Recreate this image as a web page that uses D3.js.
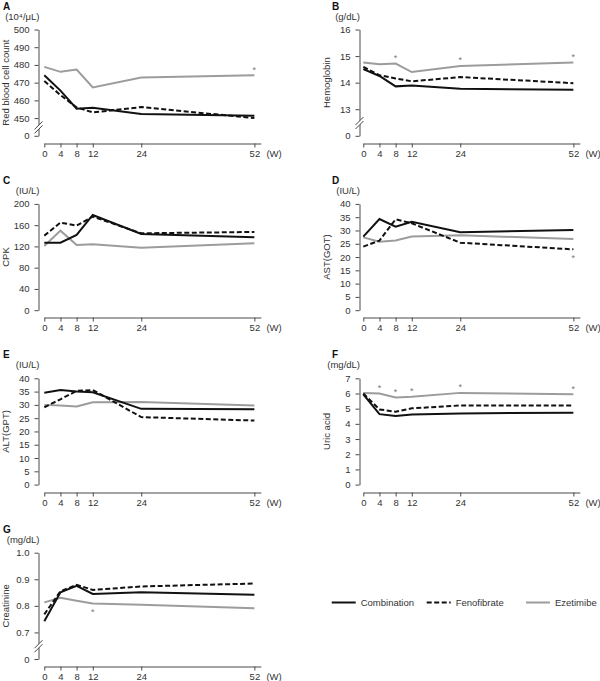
<!DOCTYPE html>
<html><head><meta charset="utf-8">
<script src="https://cdn.jsdelivr.net/npm/d3@7"></script>
<style>
body{margin:0;background:#fff;}
svg text{font-family:"Liberation Sans",Arial,Helvetica,sans-serif;}
</style></head>
<body><div id="chart"></div>
<script>
// ---------- data ----------
const weeks = [0, 4, 8, 12, 24, 52];
const xTickLabels = ["0", "4", "8", "12", "24", "52"];
const seriesNames = ["Combination", "Fenofibrate", "Ezetimibe"];

const rbcCombination = [474.2, 465.5, 455.3, 455.8, 452.3, 451.3];
const rbcFenofibrate = [470.9, 463.0, 456.0, 453.2, 456.2, 450.0];
const rbcEzetimibe   = [478.9, 476.1, 477.4, 467.3, 472.9, 474.2];

const hgbCombination = [14.51, 14.25, 13.86, 13.89, 13.77, 13.73];
const hgbFenofibrate = [14.59, 14.28, 14.16, 14.05, 14.21, 13.98];
const hgbEzetimibe   = [14.76, 14.69, 14.72, 14.40, 14.63, 14.76];

const cpkCombination = [127.0, 127.0, 141.5, 179.2, 143.4, 137.1];
const cpkFenofibrate = [140.3, 164.8, 159.1, 176.1, 144.7, 147.2];
const cpkEzetimibe   = [120.8, 149.7, 122.6, 123.9, 117.6, 125.8];

const astCombination = [27.7, 34.3, 31.4, 33.3, 29.3, 30.2];
const astFenofibrate = [23.9, 26.2, 34.2, 32.7, 25.4, 22.9];
const astEzetimibe   = [27.4, 25.8, 26.2, 27.7, 28.2, 26.8];

const altCombination = [34.6, 35.6, 35.0, 34.75, 28.5, 28.4];
const altFenofibrate = [29.1, 32.1, 35.25, 35.6, 25.4, 24.1];
const altEzetimibe   = [30.0, 29.75, 29.4, 31.0, 31.1, 29.75];

const uaCombination = [5.95, 4.64, 4.51, 4.62, 4.69, 4.73];
const uaFenofibrate = [6.00, 4.95, 4.80, 5.02, 5.21, 5.21];
const uaEzetimibe   = [6.04, 6.00, 5.73, 5.78, 6.04, 5.95];

const creCombination = [0.742, 0.851, 0.875, 0.845, 0.851, 0.842];
const creFenofibrate = [0.768, 0.855, 0.879, 0.860, 0.873, 0.884];
const creEzetimibe   = [0.813, 0.830, 0.819, 0.809, 0.804, 0.791];

const yTicksA = [0, 450, 460, 470, 480, 490, 500];
const yLabelsA = ["0", "450", "460", "470", "480", "490", "500"];
const yTicksB = [0, 13, 14, 15, 16];
const yLabelsB = ["0", "13", "14", "15", "16"];
const yTicksC = [0, 40, 80, 120, 160, 200];
const yLabelsC = ["0", "40", "80", "120", "160", "200"];
const yTicksD = [0, 5, 10, 15, 20, 25, 30, 35, 40];
const yLabelsD = ["0", "5", "10", "15", "20", "25", "30", "35", "40"];
const yTicksE = [0, 5, 10, 15, 20, 25, 30, 35, 40];
const yLabelsE = ["0", "5", "10", "15", "20", "25", "30", "35", "40"];
const yTicksF = [0, 1, 2, 3, 4, 5, 6, 7];
const yLabelsF = ["0", "1", "2", "3", "4", "5", "6", "7"];
const yTicksG = [0, 0.7, 0.8, 0.9, 1.0];
const yLabelsG = ["0", "0.7", "0.8", "0.9", "1.0"];

// significance marks: week, series the mark is attached to, above/below
const starsA = [{week: 52, series: "Ezetimibe", pos: "above"}];
const starsB = [{week: 8, series: "Ezetimibe", pos: "above"}, {week: 24, series: "Ezetimibe", pos: "above"}, {week: 52, series: "Ezetimibe", pos: "above"}];
const starsC = [];
const starsD = [{week: 52, series: "Fenofibrate", pos: "below"}];
const starsE = [];
const starsF = [{week: 4, series: "Ezetimibe", pos: "above"}, {week: 8, series: "Ezetimibe", pos: "above"}, {week: 12, series: "Ezetimibe", pos: "above"}, {week: 24, series: "Ezetimibe", pos: "above"}, {week: 52, series: "Ezetimibe", pos: "above"}];
const starsG = [{week: 12, series: "Ezetimibe", pos: "below"}];

// ---------- layout ----------
const panels = [
  {letter: "A", unit: "(10\u2074/\u03bcL)", ylabel: "Red blood cell count", ticks: yTicksA, labels: yLabelsA, broken: true, col: 0, row: 0, stars: starsA,
   data: {Combination: rbcCombination, Fenofibrate: rbcFenofibrate, Ezetimibe: rbcEzetimibe}},
  {letter: "B", unit: "(g/dL)", ylabel: "Hemoglobin", ticks: yTicksB, labels: yLabelsB, broken: true, col: 1, row: 0, stars: starsB,
   data: {Combination: hgbCombination, Fenofibrate: hgbFenofibrate, Ezetimibe: hgbEzetimibe}},
  {letter: "C", unit: "(IU/L)", ylabel: "CPK", ticks: yTicksC, labels: yLabelsC, broken: false, col: 0, row: 1, stars: starsC,
   data: {Combination: cpkCombination, Fenofibrate: cpkFenofibrate, Ezetimibe: cpkEzetimibe}},
  {letter: "D", unit: "(IU/L)", ylabel: "AST(GOT)", ticks: yTicksD, labels: yLabelsD, broken: false, col: 1, row: 1, stars: starsD,
   data: {Combination: astCombination, Fenofibrate: astFenofibrate, Ezetimibe: astEzetimibe}},
  {letter: "E", unit: "(IU/L)", ylabel: "ALT(GPT)", ticks: yTicksE, labels: yLabelsE, broken: false, col: 0, row: 2, stars: starsE,
   data: {Combination: altCombination, Fenofibrate: altFenofibrate, Ezetimibe: altEzetimibe}},
  {letter: "F", unit: "(mg/dL)", ylabel: "Uric acid", ticks: yTicksF, labels: yLabelsF, broken: false, col: 1, row: 2, stars: starsF,
   data: {Combination: uaCombination, Fenofibrate: uaFenofibrate, Ezetimibe: uaEzetimibe}},
  {letter: "G", unit: "(mg/dL)", ylabel: "Creatinine", ticks: yTicksG, labels: yLabelsG, broken: true, col: 0, row: 3, stars: starsG,
   data: {Combination: creCombination, Fenofibrate: creFenofibrate, Ezetimibe: creEzetimibe}}
];

const cols = [{axisX: 38, x0: 44.3, letterX: 3}, {axisX: 358.5, x0: 363.3, letterX: 332}];
const rowTop0 = 29.5, rowStep = 174.4, plotH = 106.3;
const pxPerWeek = 4.04, xDomainMax = 53.6;
const styles = {
  Combination: {stroke: "#111", dash: null},
  Fenofibrate: {stroke: "#111", dash: "5,2.5"},
  Ezetimibe:   {stroke: "#9c9c9c", dash: null}
};
const axisColor = "#4a4a4a", textColor = "#333", fs = 9.5;

const svg = d3.select("#chart").append("svg").attr("width", 600).attr("height", 681);

panels.forEach(p => {
  const c = cols[p.col];
  const top = rowTop0 + p.row * rowStep;
  const bottom = top + plotH;
  const n = p.ticks.length;
  const step = (bottom - top) / (n - 1);
  const y = p.broken
    ? d3.scaleLinear().domain([p.ticks[0], p.ticks[1], p.ticks[n - 1]]).range([bottom, bottom - step, top])
    : d3.scaleLinear().domain([p.ticks[0], p.ticks[n - 1]]).range([bottom, top]);
  const x = d3.scaleLinear().domain([0, xDomainMax]).range([c.x0, c.x0 + xDomainMax * pxPerWeek]);
  const g = svg.append("g");

  // y axis
  const ya = g.append("g").attr("transform", `translate(${Math.round(c.axisX) + 0.5},0)`)
    .call(d3.axisLeft(y).tickValues(p.ticks).tickFormat((d, i) => p.labels[i]).tickSize(4).tickPadding(5).tickSizeOuter(0));
  ya.selectAll("path,line").attr("stroke", axisColor);
  ya.selectAll("text").attr("fill", textColor).style("font-size", fs + "px");

  if (p.broken) {
    const yb = bottom - step / 2;
    const ax = Math.round(c.axisX) + 0.5;
    g.append("path").attr("d", `M${ax - 4},${yb + 6.5}L${ax + 4},${yb - 1.5}L${ax + 4},${yb - 5.5}L${ax - 4},${yb + 2.5}Z`)
      .attr("fill", "#fff");
    [-2, 2].forEach(o => {
      g.append("line").attr("x1", ax - 4).attr("y1", yb + o + 4.5).attr("x2", ax + 4).attr("y2", yb + o - 3.5)
        .attr("stroke", axisColor).attr("stroke-width", 1);
    });
  }

  // x axis
  const xAxisY = Math.round(bottom + 7) + 0.5;
  const xa = g.append("g").attr("transform", `translate(0,${xAxisY})`)
    .call(d3.axisBottom(x).tickValues(weeks).tickFormat((d, i) => xTickLabels[i]).tickSize(4).tickPadding(3).tickSizeOuter(0));
  xa.selectAll("path,line").attr("stroke", axisColor);
  xa.selectAll("text").attr("fill", textColor).style("font-size", fs + "px");
  g.append("text").attr("x", x(weeks[weeks.length - 1]) + 12).attr("y", xAxisY + 7).attr("dy", "0.71em")
    .attr("fill", textColor).style("font-size", fs + "px").text("(W)");

  // labels
  g.append("text").attr("x", c.letterX).attr("y", top - 20).attr("fill", "#111")
    .style("font-size", "10px").style("font-weight", "bold").text(p.letter);
  g.append("text").attr("x", c.axisX + 1.5).attr("y", top - 10).attr("text-anchor", "end")
    .attr("fill", textColor).style("font-size", fs + "px").text(p.unit);
  g.append("text").attr("transform", `translate(${c.axisX - 29},${(top + bottom) / 2}) rotate(-90)`)
    .attr("text-anchor", "middle").attr("fill", textColor).style("font-size", fs + "px").text(p.ylabel);

  // lines
  const line = d3.line().x((d, i) => x(weeks[i])).y(d => y(d));
  ["Ezetimibe", "Fenofibrate", "Combination"].forEach(s => {
    g.append("path").datum(p.data[s]).attr("d", line).attr("fill", "none")
      .attr("stroke", styles[s].stroke).attr("stroke-width", 2)
      .attr("stroke-dasharray", styles[s].dash);
  });

  // stars
  p.stars.forEach(st => {
    const v = p.data[st.series][weeks.indexOf(st.week)];
    const cy = y(v) + (st.pos === "above" ? -7.5 : 6.5);
    g.append("text").attr("x", x(st.week)).attr("y", cy + 5).attr("text-anchor", "middle")
      .attr("fill", "#777").style("font-size", "9px").text("*");
  });
});

// legend
const legY = 602.5;
const legX = [331.7, 426.7, 526];
seriesNames.forEach((s, i) => {
  svg.append("line").attr("x1", legX[i]).attr("x2", legX[i] + 24).attr("y1", legY).attr("y2", legY)
    .attr("stroke", styles[s].stroke).attr("stroke-width", 2).attr("stroke-dasharray", styles[s].dash);
  svg.append("text").attr("x", legX[i] + 29).attr("y", legY + 3.3).attr("fill", textColor)
    .style("font-size", fs + "px").text(s);
});
</script></body></html>
